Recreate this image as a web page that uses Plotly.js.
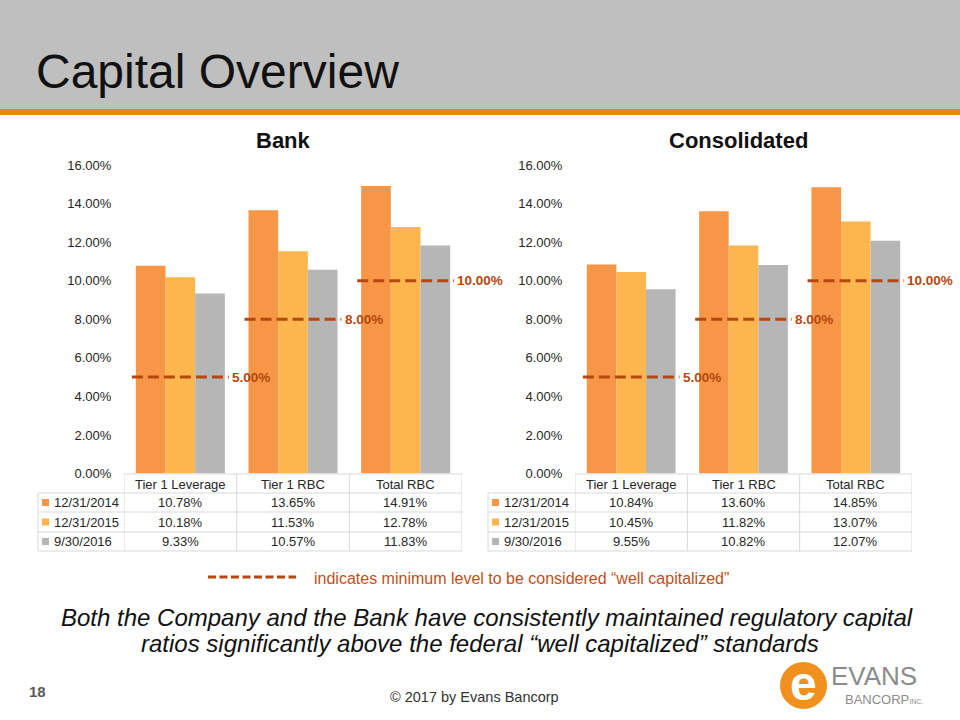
<!DOCTYPE html>
<html><head><meta charset="utf-8">
<script src="https://cdn.plot.ly/plotly-3.0.1.min.js"></script>
<style>html,body{margin:0;padding:0;background:#fff}#chart{width:960px;height:720px}</style>
</head><body><div id="chart"></div>
<script>
// ---- data ----
const categories = ['Tier 1 Leverage', 'Tier 1 RBC', 'Total RBC'];
const seriesNames = ['12/31/2014', '12/31/2015', '9/30/2016'];
const bank2014 = [10.78, 13.65, 14.91];
const bank2015 = [10.18, 11.53, 12.78];
const bank2016 = [9.33, 10.57, 11.83];
const cons2014 = [10.84, 13.60, 14.85];
const cons2015 = [10.45, 11.82, 13.07];
const cons2016 = [9.55, 10.82, 12.07];
const wellCapitalized = [5, 8, 10];
const yTicks = [0, 2, 4, 6, 8, 10, 12, 14, 16];
const panelTitles = ['Bank', 'Consolidated'];

// ---- helpers ----
const W = 960, H = 720;
const px = x => x / W, py = y => 1 - y / H;
const FONT = 'Liberation Sans, Arial, sans-serif';
const colors = ['#F79646', '#FDB54E', '#B6B6B6'];
const dashColor = '#B5470F';
const gridColor = '#D9D9D9';
const textColor = '#262626';
const pct = v => v.toFixed(2) + '%';

const panels = [
  {vals: [bank2014, bank2015, bank2016], xa: 'x', ya: 'y', xl: 124, xr: 462, tl: 38, title: panelTitles[0], tx: 283},
  {vals: [cons2014, cons2015, cons2016], xa: 'x2', ya: 'y2', xl: 575, xr: 912, tl: 488, title: panelTitles[1], tx: 738}
];
const yTop = 165, yBot = 473.5;
const tableLines = [474, 493, 512, 532, 551];
const headerY = 484;
const rowY = [502.5, 522, 541.5];

const traces = [], shapes = [], annotations = [];

// header band
shapes.push({type: 'rect', xref: 'paper', yref: 'paper', x0: 0, x1: 1, y0: py(109), y1: 1, fillcolor: '#BFBFBF', line: {width: 0}, layer: 'below'});
shapes.push({type: 'rect', xref: 'paper', yref: 'paper', x0: 0, x1: 1, y0: py(115), y1: py(109), fillcolor: '#E9870F', line: {width: 0}, layer: 'below'});
annotations.push({xref: 'paper', yref: 'paper', x: px(34), y: py(72), xanchor: 'left', yanchor: 'middle', showarrow: false,
  text: 'Capital Overview', font: {family: FONT, size: 48, color: '#111111'}});

const layout = {
  width: W, height: H, margin: {l: 0, r: 0, t: 0, b: 0},
  paper_bgcolor: '#ffffff', plot_bgcolor: 'rgba(0,0,0,0)',
  barmode: 'group', bargap: 0.21, bargroupgap: 0, showlegend: false,
  font: {family: FONT, color: textColor}
};

panels.forEach((p, k) => {
  const sfx = k === 0 ? '' : '2';
  layout['xaxis' + sfx] = {domain: [px(p.xl), px(p.xr)], type: 'category', range: [-0.5, 2.5], anchor: 'y' + sfx,
    showticklabels: false, ticks: '', showline: false, showgrid: false, zeroline: false, fixedrange: true};
  layout['yaxis' + sfx] = {domain: [py(yBot), py(yTop)], range: [0, 16], anchor: 'x' + sfx,
    tickvals: yTicks, ticktext: yTicks.map(pct), showgrid: false, zeroline: false, showline: false,
    ticks: 'outside', ticklen: 9, tickcolor: 'rgba(0,0,0,0)', tickfont: {family: FONT, size: 13, color: textColor}, fixedrange: true};

  p.vals.forEach((v, s) => {
    traces.push({type: 'bar', x: categories, y: v, xaxis: p.xa, yaxis: p.ya, name: seriesNames[s],
      marker: {color: colors[s], line: {width: 0}}, hoverinfo: 'skip'});
  });

  // panel title
  annotations.push({xref: 'paper', yref: 'paper', x: px(p.tx), y: py(141), xanchor: 'center', yanchor: 'middle', showarrow: false,
    text: '<b>' + p.title + '</b>', font: {family: FONT, size: 22, color: '#111111'}});

  // threshold lines
  wellCapitalized.forEach((t, i) => {
    shapes.push({type: 'line', xref: p.xa, yref: p.ya, x0: i - 0.43, x1: i + 0.43, y0: t, y1: t,
      line: {color: dashColor, width: 3, dash: '11px,5px'}});
    annotations.push({xref: p.xa, yref: p.ya, x: i + 0.44, y: t, xanchor: 'left', yanchor: 'middle', showarrow: false,
      text: '<b>' + pct(t) + '</b>', font: {family: FONT, size: 13.5, color: dashColor}});
  });

  // table lines
  shapes.push({type: 'line', xref: 'paper', yref: 'paper', x0: px(p.xl), x1: px(p.xr), y0: py(tableLines[0]), y1: py(tableLines[0]), line: {color: gridColor, width: 1}});
  tableLines.slice(1).forEach(y => {
    shapes.push({type: 'line', xref: 'paper', yref: 'paper', x0: px(p.tl), x1: px(p.xr), y0: py(y), y1: py(y), line: {color: gridColor, width: 1}});
  });
  shapes.push({type: 'line', xref: 'paper', yref: 'paper', x0: px(p.tl), x1: px(p.tl), y0: py(tableLines[1]), y1: py(tableLines[4]), line: {color: gridColor, width: 1}});
  [-0.5, 0.5, 1.5, 2.5].forEach(xb => {
    shapes.push({type: 'line', xref: p.xa, yref: 'paper', x0: xb, x1: xb, y0: py(tableLines[0]), y1: py(tableLines[4]), line: {color: gridColor, width: 1}});
  });

  // header
  categories.forEach(c => {
    annotations.push({xref: p.xa, yref: 'paper', x: c, y: py(headerY), xanchor: 'center', yanchor: 'middle', showarrow: false,
      text: c, font: {family: FONT, size: 13, color: textColor}});
  });
  // rows
  p.vals.forEach((v, s) => {
    shapes.push({type: 'rect', xref: 'paper', yref: 'paper', x0: px(p.tl + 4), x1: px(p.tl + 11), y0: py(rowY[s] + 3.5), y1: py(rowY[s] - 3.5),
      fillcolor: colors[s], line: {width: 0}});
    annotations.push({xref: 'paper', yref: 'paper', x: px(p.tl + 14), y: py(rowY[s]), xanchor: 'left', yanchor: 'middle', showarrow: false,
      text: seriesNames[s], font: {family: FONT, size: 13, color: textColor}});
    v.forEach((val, i) => {
      annotations.push({xref: p.xa, yref: 'paper', x: categories[i], y: py(rowY[s]), xanchor: 'center', yanchor: 'middle', showarrow: false,
        text: pct(val), font: {family: FONT, size: 13, color: textColor}});
    });
  });
});

// legend note
shapes.push({type: 'line', xref: 'paper', yref: 'paper', x0: px(208), x1: px(296), y0: py(577), y1: py(577), line: {color: dashColor, width: 3, dash: '8px,3.5px'}});
annotations.push({xref: 'paper', yref: 'paper', x: px(312), y: py(578), xanchor: 'left', yanchor: 'middle', showarrow: false,
  text: 'indicates minimum level to be considered “well capitalized”', font: {family: FONT, size: 16, color: '#C0501A'}});

// italic statement
annotations.push({xref: 'paper', yref: 'paper', x: px(487), y: py(617), xanchor: 'center', yanchor: 'middle', showarrow: false,
  text: '<i>Both the Company and the Bank have consistently maintained regulatory capital</i>', font: {family: FONT, size: 24, color: '#111111'}});
annotations.push({xref: 'paper', yref: 'paper', x: px(480), y: py(643), xanchor: 'center', yanchor: 'middle', showarrow: false,
  text: '<i>ratios significantly above the federal “well capitalized” standards</i>', font: {family: FONT, size: 24, color: '#111111'}});

// footer
annotations.push({xref: 'paper', yref: 'paper', x: px(27), y: py(691), xanchor: 'left', yanchor: 'middle', showarrow: false,
  text: '<b>18</b>', font: {family: FONT, size: 15, color: '#595959'}});
annotations.push({xref: 'paper', yref: 'paper', x: px(474), y: py(697), xanchor: 'center', yanchor: 'middle', showarrow: false,
  text: '© 2017 by Evans Bancorp', font: {family: FONT, size: 14.5, color: '#333333'}});

// logo
shapes.push({type: 'circle', xref: 'paper', yref: 'paper', x0: px(780), x1: px(827), y0: py(709), y1: py(662), fillcolor: '#F0901E', line: {width: 0}});
annotations.push({xref: 'paper', yref: 'paper', x: px(803.5), y: py(683), xanchor: 'center', yanchor: 'middle', showarrow: false,
  text: '<b>e</b>', font: {family: FONT, size: 48, color: '#ffffff'}});
annotations.push({xref: 'paper', yref: 'paper', x: px(829), y: py(676), xanchor: 'left', yanchor: 'middle', showarrow: false,
  text: 'EVANS', font: {family: FONT, size: 26, color: '#8C8C8C'}});
annotations.push({xref: 'paper', yref: 'paper', x: px(843), y: py(699), xanchor: 'left', yanchor: 'middle', showarrow: false,
  text: 'BANCORP<span style="font-size:7px">INC.</span>', font: {family: FONT, size: 13, color: '#8C8C8C'}});

layout.shapes = shapes;
layout.annotations = annotations;

Plotly.newPlot('chart', traces, layout, {staticPlot: true, displayModeBar: false});
</script>
</body></html>
